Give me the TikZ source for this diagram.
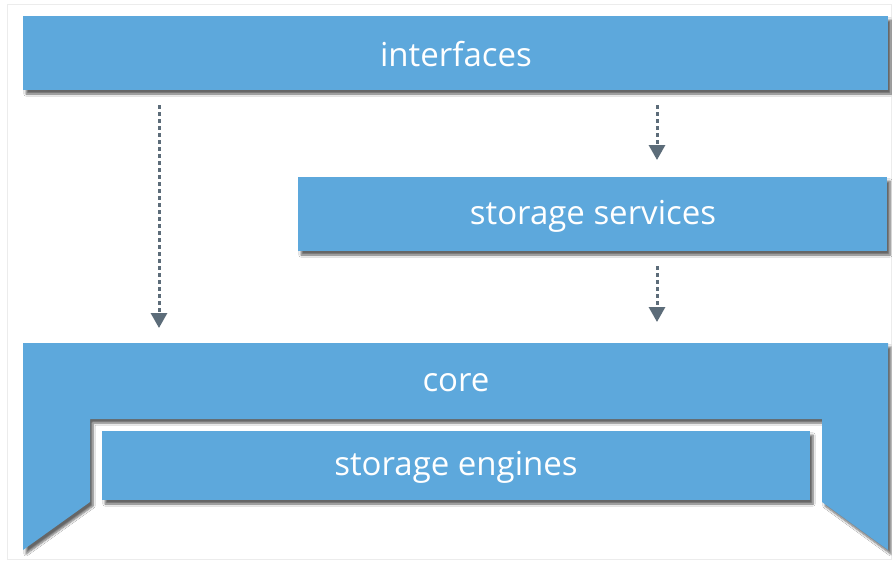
\documentclass[tikz,border=0pt]{standalone}
\usepackage{fontspec}
\setmainfont{Open Sans}
\usetikzlibrary{shadows.blur,arrows.meta}
\definecolor{boxblue}{HTML}{5DA8DC}
\definecolor{arrowgray}{HTML}{5C6C79}
\definecolor{framegray}{HTML}{ECECEC}
\begin{document}
\begin{tikzpicture}[x=1pt,y=-1pt,
  layer/.style={fill=boxblue,draw=none,
    blur shadow={shadow xshift=3pt,shadow yshift=-4pt,shadow blur steps=6,shadow opacity=60}},
  label/.style={text=white,font=\fontsize{33}{36}\selectfont},
  depends/.style={draw=arrowgray,line width=3pt,dash pattern=on 4pt off 3pt,
    -{Triangle[width=16pt,length=15pt]}}]
  \useasboundingbox (0,0) rectangle (892,563);
  \fill[white] (0,0) rectangle (892,563);
  \draw[framegray,line width=1pt] (7,4) rectangle (891,559);

  % layers
  \path[layer] (23,16) rectangle (888,90);
  \node[label] (interfaces) at (456,54) {interfaces};

  \path[layer] (298,177) rectangle (887,251);
  \node[label] (services) at (593,216) {storage services};

  \path[layer] (23,343) -- (888,343) -- (888,550) -- (822,502) -- (822,419)
    -- (90,419) -- (90,502) -- (23,550) -- cycle;
  \node[label] (core) at (456,383) {core};

  \path[layer] (102,431) rectangle (810,500);
  \node[label] (engines) at (456,467) {storage engines};

  % dependency arrows
  \coordinate (a1s) at (159,105);
  \coordinate (a1e) at (159,328);
  \coordinate (a2s) at (657,105);
  \coordinate (a2e) at (657,160);
  \coordinate (a3s) at (657,266);
  \coordinate (a3e) at (657,322);
  \draw[depends] (a1s) -- (a1e);
  \draw[depends] (a2s) -- (a2e);
  \draw[depends] (a3s) -- (a3e);
\end{tikzpicture}
\end{document}
